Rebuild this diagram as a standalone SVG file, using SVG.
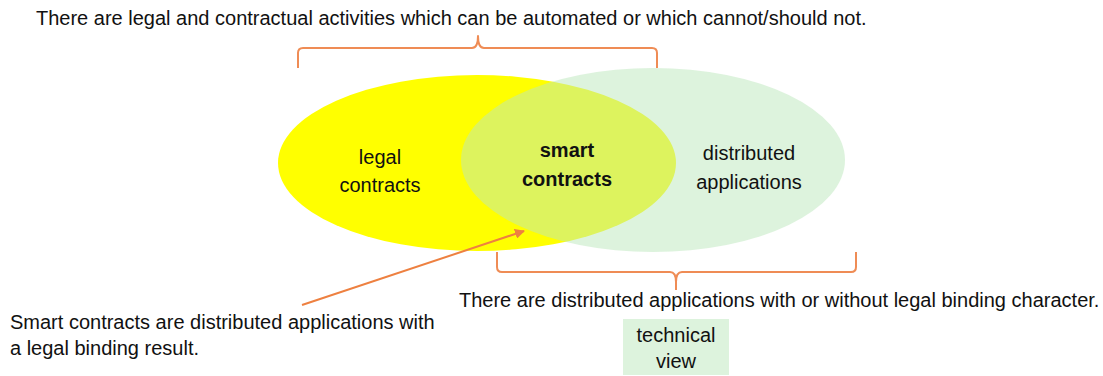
<svg xmlns="http://www.w3.org/2000/svg" width="1103" height="376" viewBox="0 0 1103 376">
  <defs>
    <style>
      text { font-family: "Liberation Sans", Arial, sans-serif; font-size: 20px; fill: #111; }
      .c { text-anchor: middle; }
      .b { font-weight: bold; }
      .brace { fill: none; stroke: #EF8C55; stroke-width: 2; stroke-linejoin: round; }
      .arrow { fill: none; stroke: #EE8040; stroke-width: 2; }
    </style>
    <marker id="ah" viewBox="0 0 10 10" refX="9" refY="5" markerWidth="5" markerHeight="5" orient="auto" markerUnits="strokeWidth">
      <path d="M0,0 L10,5 L0,10 z" fill="#EE8040"/>
    </marker>
  </defs>
  <rect width="1103" height="376" fill="#fff"/>

  <g id="legal-contracts">
    <ellipse cx="477" cy="163" rx="199" ry="88" fill="#FFFF00"/>
  </g>
  <g id="distributed-applications">
    <ellipse cx="653" cy="160" rx="192" ry="92" fill="#bce7bc" fill-opacity="0.5"/>
  </g>
  <g id="labels">
    <text class="c" x="380" y="164">legal</text>
    <text class="c" x="380" y="192">contracts</text>
    <text class="c b" x="567" y="157">smart</text>
    <text class="c b" x="567" y="186">contracts</text>
    <text class="c" x="749" y="160">distributed</text>
    <text class="c" x="749" y="189">applications</text>
  </g>

  <g id="top-note">
    <text x="36" y="25">There are legal and contractual activities which can be automated or which cannot/should not.</text>
  </g>
  <g id="bottom-note">
    <text x="459" y="307">There are distributed applications with or without legal binding character.</text>
  </g>
  <g id="smart-note">
    <text x="10" y="329">Smart contracts are distributed applications with</text>
    <text x="10" y="355">a legal binding result.</text>
  </g>
  <g id="technical-view">
    <rect x="623" y="319" width="106" height="56" fill="#DDF3DD"/>
    <text class="c" x="676" y="342">technical</text>
    <text class="c" x="676" y="368">view</text>
  </g>

  <g id="connectors">
    <path class="brace" d="M298,68 L298,53 Q298,48 303,48 L472,48 Q478,48 478,36 Q478,48 484,48 L652,48 Q657,48 657,53 L657,68"/>
    <path class="brace" d="M497,252 L497,267 Q497,272 502,272 L670,272 Q676,272 676,282 L676,290 M676,282 Q676,272 682,272 L851,272 Q856,272 856,267 L856,252"/>
    <line class="arrow" x1="302" y1="305" x2="524" y2="231" marker-end="url(#ah)"/>
  </g>
</svg>
